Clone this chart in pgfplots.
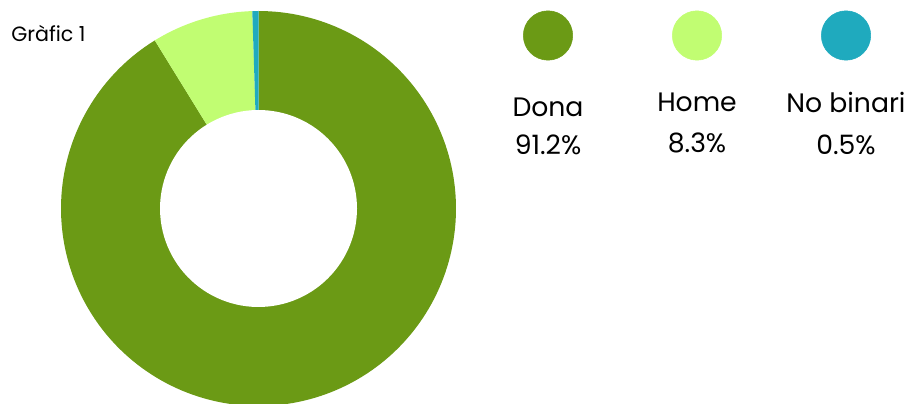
\documentclass[border=0pt]{standalone}
\usepackage{pgfplots}
\pgfplotsset{compat=1.18}
\usepackage{fontspec}
\setmainfont{Poppins}
\definecolor{cDona}{HTML}{6B9A15}
\definecolor{cHome}{HTML}{C1FD72}
\definecolor{cNB}{HTML}{1FAABE}
% shares (percent)
\def\vDona{91.2}
\def\vHome{8.3}
\def\vNB{0.5}
\pgfmathsetmacro{\aA}{90}
\pgfmathsetmacro{\aB}{90-3.6*\vDona}
\pgfmathsetmacro{\aC}{\aB-3.6*\vHome}
\pgfmathsetmacro{\aD}{\aC-3.6*\vNB}
\def\cx{258.5}
\def\cy{194.5}
\def\R{197.5}
\def\r{98.5}
\begin{document}
\begin{tikzpicture}
\begin{axis}[
  width=684pt, height=302.25pt, scale only axis,
  xmin=0, xmax=912, ymin=0, ymax=403,
  hide axis, clip=true,
]
\addplot[fill=cDona, draw=none, domain=\aB:\aA, samples=200, variable=\t]
  ({\cx+\R*cos(\t)},{\cy+\R*sin(\t)}) -- (axis cs:\cx,\cy) -- cycle;
\addplot[fill=cHome, draw=none, domain=\aC:\aB, samples=40, variable=\t]
  ({\cx+\R*cos(\t)},{\cy+\R*sin(\t)}) -- (axis cs:\cx,\cy) -- cycle;
\addplot[fill=cNB, draw=none, domain=\aD:\aC, samples=5, variable=\t]
  ({\cx+\R*cos(\t)},{\cy+\R*sin(\t)}) -- (axis cs:\cx,\cy) -- cycle;
\addplot[fill=white, draw=none, domain=0:360, samples=120, variable=\t]
  ({\cx+\r*cos(\t)},{\cy+\r*sin(\t)}) -- cycle;
% legend markers
\addplot[only marks, mark=*, mark size=18.5pt, color=cDona] coordinates {(548,367.5)};
\addplot[only marks, mark=*, mark size=18.5pt, color=cHome] coordinates {(697,367.5)};
\addplot[only marks, mark=*, mark size=18.5pt, color=cNB] coordinates {(846,367.5)};
\node[anchor=base west, inner sep=0pt, font=\fontsize{15.5}{17}\selectfont] at (axis cs:11,361) {Gràfic 1};
\node[anchor=base, font=\fontsize{20}{22}\selectfont] at (axis cs:548,286) {Dona};
\node[anchor=base, font=\fontsize{20}{22}\selectfont] at (axis cs:548,248) {91.2\%};
\node[anchor=base, font=\fontsize{20}{22}\selectfont] at (axis cs:697,291) {Home};
\node[anchor=base, font=\fontsize{20}{22}\selectfont] at (axis cs:697,250) {8.3\%};
\node[anchor=base, font=\fontsize{20}{22}\selectfont] at (axis cs:846,290) {No binari};
\node[anchor=base, font=\fontsize{20}{22}\selectfont] at (axis cs:846,248) {0.5\%};
\end{axis}
\pgfresetboundingbox
\path[use as bounding box] (current axis.south west) rectangle (current axis.north east);
\end{tikzpicture}
\end{document}
